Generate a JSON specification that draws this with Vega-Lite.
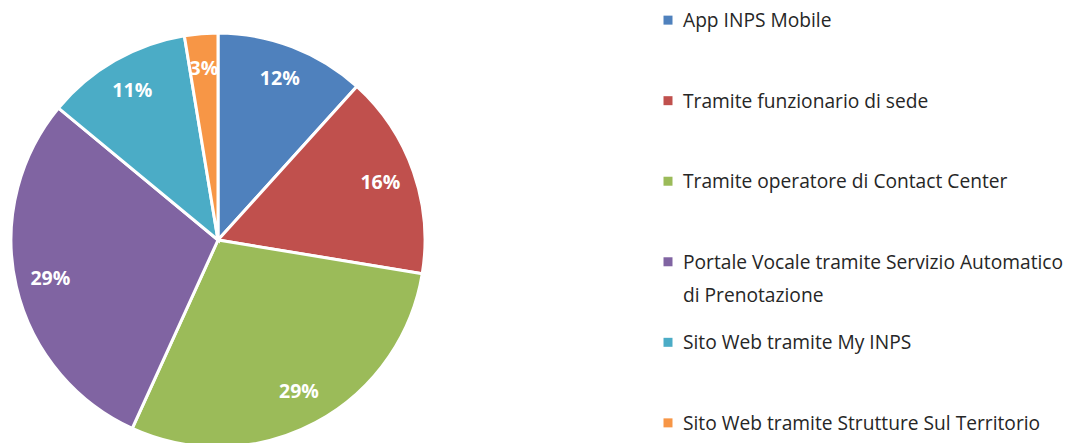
{
  "$schema": "https://vega.github.io/schema/vega-lite/v6.json",
  "padding": 0,
  "autosize": {"type": "pad"},
  "background": "white",
  "config": {"view": {"stroke": null}, "font": "Open Sans"},
  "data": {
    "values": [
      {"order": 1, "cat": "App INPS Mobile", "legend": "App INPS Mobile", "value": 11.7, "label": "12%"},
      {"order": 2, "cat": "Tramite funzionario di sede", "legend": "Tramite funzionario di sede", "value": 15.9, "label": "16%"},
      {"order": 3, "cat": "Tramite operatore di Contact Center", "legend": "Tramite operatore di Contact Center", "value": 29.2, "label": "29%"},
      {"order": 4, "cat": "Portale Vocale tramite Servizio Automatico di Prenotazione", "legend": "Portale Vocale tramite Servizio Automatico\ndi Prenotazione", "value": 29.2, "label": "29%"},
      {"order": 5, "cat": "Sito Web tramite My INPS", "legend": "Sito Web tramite My INPS", "value": 11.4, "label": "11%"},
      {"order": 6, "cat": "Sito Web tramite Strutture Sul Territorio", "legend": "Sito Web tramite Strutture Sul Territorio", "value": 2.6, "label": "3%"}
    ]
  },
  "hconcat": [
    {
      "width": 436,
      "height": 480,
      "encoding": {
        "theta": {"field": "value", "type": "quantitative", "stack": true},
        "order": {"field": "order", "type": "quantitative"},
        "color": {
          "field": "cat",
          "type": "nominal",
          "sort": null,
          "scale": {
            "domain": ["App INPS Mobile", "Tramite funzionario di sede", "Tramite operatore di Contact Center", "Portale Vocale tramite Servizio Automatico di Prenotazione", "Sito Web tramite My INPS", "Sito Web tramite Strutture Sul Territorio"],
            "range": ["#4F81BD", "#C0504D", "#9BBB59", "#8064A2", "#4BACC6", "#F79646"]
          },
          "legend": null
        }
      },
      "layer": [
        {"mark": {"type": "arc", "outerRadius": 207, "stroke": "white", "strokeWidth": 3}},
        {
          "mark": {"type": "text", "radius": 172, "fontSize": 19.5, "fontWeight": "bold", "fill": "white", "font": "Open Sans"},
          "encoding": {"text": {"field": "label"}, "color": {"value": "white"}}
        }
      ]
    },
    {
      "width": 16,
      "height": 443,
      "encoding": {
        "y": {
          "field": "cat",
          "type": "nominal",
          "sort": {"field": "order"},
          "scale": {"type": "point", "padding": 0.25},
          "axis": null
        }
      },
      "layer": [
        {
          "mark": {"type": "point", "shape": "square", "filled": true, "size": 81, "opacity": 1},
          "encoding": {
            "color": {
              "field": "cat",
              "type": "nominal",
              "scale": {
                "domain": ["App INPS Mobile", "Tramite funzionario di sede", "Tramite operatore di Contact Center", "Portale Vocale tramite Servizio Automatico di Prenotazione", "Sito Web tramite My INPS", "Sito Web tramite Strutture Sul Territorio"],
                "range": ["#4F81BD", "#C0504D", "#9BBB59", "#8064A2", "#4BACC6", "#F79646"]
              },
              "legend": null
            }
          }
        },
        {
          "mark": {"type": "text", "align": "left", "baseline": "alphabetic", "dx": 15, "dy": 7, "fontSize": 19.2, "lineBreak": "\n", "lineHeight": 33, "color": "#262626", "font": "Open Sans"},
          "encoding": {"text": {"field": "legend"}}
        }
      ]
    }
  ],
  "spacing": 224
}
